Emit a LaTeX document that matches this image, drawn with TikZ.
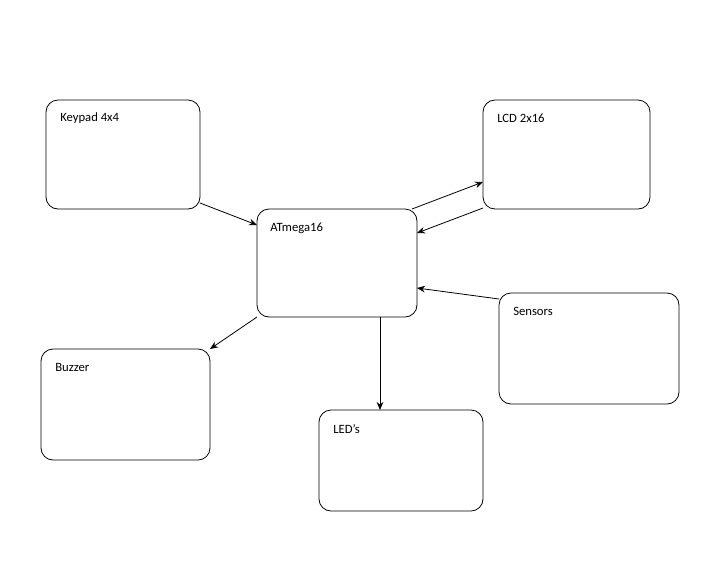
\documentclass[tikz,border=0pt]{standalone}
\usepackage{fontspec}
\setmainfont{Carlito}
\usetikzlibrary{arrows.meta,calc}
\begin{document}
\begin{tikzpicture}[x=0.75pt,y=-0.75pt,
  box/.style={draw,rounded corners=9pt,line width=0.6pt},
  lbl/.style={anchor=west,inner sep=0pt,font=\fontsize{9.5}{11}\selectfont},
  arr/.style={-{Stealth[length=6pt,width=5pt]},line width=0.6pt}]
\useasboundingbox (0,0) rectangle (721,569);
\draw[box] (46,100) rectangle (200,209);
\draw[box] (483,100) rectangle (650,209);
\draw[box] (257,209) rectangle (417,317);
\draw[box] (499,293) rectangle (679,404);
\draw[box] (41,349) rectangle (210,460);
\draw[box] (319,410) rectangle (483,511);
\node[lbl] (kp) at (60,118) {Keypad 4x4};
\node[lbl] (lcd) at (497,118) {LCD 2x16};
\node[lbl] (at) at (270,228) {ATmega16};
\node[lbl] (se) at (513,311) {Sensors};
\node[lbl] (bz) at (55,367) {Buzzer};
\node[lbl] (led) at (333,429) {LED’s};
\coordinate (kpo) at (200,203); \coordinate (ati1) at (257,225);
\coordinate (ato1) at (412,209); \coordinate (lcdi) at (483,182);
\coordinate (lcdo) at (483,208); \coordinate (ati2) at (417,233);
\coordinate (seo) at (499,299); \coordinate (ati3) at (417,288);
\coordinate (ato2) at (257,317); \coordinate (bzi) at (210,349);
\coordinate (ato3) at (380,317); \coordinate (ledi) at (380,410);
\draw[arr] (kpo) -- (ati1);
\draw[arr] (ato1) -- (lcdi);
\draw[arr] (lcdo) -- (ati2);
\draw[arr] (seo) -- (ati3);
\draw[arr] (ato2) -- (bzi);
\draw[arr] (ato3) -- (ledi);
\end{tikzpicture}
\end{document}
